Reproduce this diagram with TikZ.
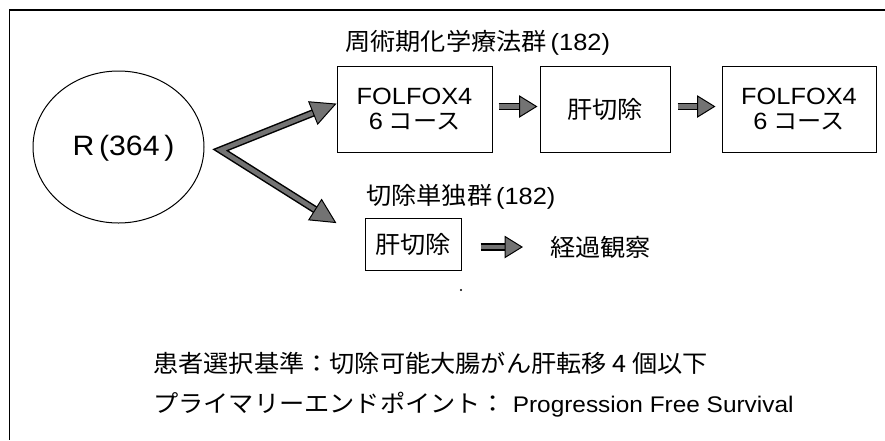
\documentclass[tikz,border=0pt]{standalone}
\usepackage{fontspec}
\setmainfont{Liberation Sans}[FakeStretch=1.08]
\newfontfamily\jp{Noto Sans CJK JP}[FakeStretch=1.05]
\usetikzlibrary{shapes.geometric,calc}
\tikzset{
  box/.style={draw, line width=1pt, inner sep=0pt, align=center, font=\fontsize{23.5}{25}\selectfont},
  lbl/.style={inner sep=0pt, anchor=west, font=\fontsize{23.5}{25}\selectfont},
  fatout/.style={line width=7.5pt, black, line join=miter},
  fatin/.style={line width=4.5pt, black!55, line join=miter},
  headst/.style={draw=black, line width=1pt, fill=black!55, line join=miter},
}
\newcommand{\fatarrow}[4]{%
  \coordinate (fab) at ($(#2)!#3!(#1)$);
  \draw[fatout] (#1) -- (fab);
  \draw[fatin] (#1) -- (fab);
  \draw[headst] (#2) -- ($(fab)!#4!90:(#2)$) -- ($(fab)!#4!-90:(#2)$) -- cycle;
}
\begin{document}
\begin{tikzpicture}[x=1pt,y=-1pt]
\useasboundingbox (0,0) rectangle (885,440);
\fill[white] (0,0) rectangle (885,440);
% frame
\draw[line width=1.2pt] (885,10) -- (9.5,10) -- (9.5,440);
% nodes
\node[draw, ellipse, line width=1pt, minimum width=171pt, minimum height=152pt, inner sep=0pt] (R) at (118.5,147) {};
\node[inner sep=0pt, font=\fontsize{28}{30}\selectfont] (Rt) at (123.5,148.5) {R\,(364\,)};
\node[lbl] (t1) at (345,43) {{\jp\fontsize{24}{26}\selectfont 周術期化学療法群}\,(182)};
\node[box, minimum width=155pt, minimum height=86pt] (b1) at (414.5,109.5) {FOLFOX4\\6\hspace{6pt}{\jp\fontsize{23}{25}\selectfont コース}};
\node[box, minimum width=130pt, minimum height=86pt] (b2) at (605,109.5) {\jp\fontsize{24}{25}\selectfont 肝切除};
\node[box, minimum width=154pt, minimum height=86pt] (b3) at (799,109.5) {FOLFOX4\\6\hspace{6pt}{\jp\fontsize{23}{25}\selectfont コース}};
\node[lbl] (t2) at (366,197) {{\jp\fontsize{24}{26}\selectfont 切除単独群}\,(182)};
\node[box, minimum width=96pt, minimum height=52pt] (b4) at (413,244) {\jp\fontsize{24}{25}\selectfont 肝切除};
\node[lbl] (obs) at (550,247) {\jp\fontsize{24}{25}\selectfont 経過観察};
\node[lbl] (c1) at (153,363) {\jp\fontsize{24}{25}\selectfont 患者選択基準：切除可能大腸がん肝転移 4 個以下};
\node[lbl, font=\fontsize{22.6}{25}\selectfont] (c2) at (153,405) {{\jp\fontsize{24}{25}\selectfont プライマリーエンドポイント：} Progression Free Survival};
% big V arrows
\coordinate (v) at ($(R.east)+(16,3)$);
\coordinate (p1) at ($(b1.west)+(-1,-5.5)$);
\coordinate (p2) at ($(b4.north west)+(-29,5)$);
\coordinate (q1) at ($(p1)!24pt!(v)$);
\coordinate (q2) at ($(p2)!24pt!(v)$);
\draw[fatout] (q1) -- (v) -- (q2);
\draw[fatin] (q1) -- (v) -- (q2);
\draw[headst] (p1) -- ($(q1)!12pt!90:(p1)$) -- ($(q1)!12pt!-90:(p1)$) -- cycle;
\draw[headst] (p2) -- ($(q2)!12pt!90:(p2)$) -- ($(q2)!12pt!-90:(p2)$) -- cycle;
% small arrows
\coordinate (s1) at ($(b1.east)+(6,-3)$);
\coordinate (e1) at ($(b2.west)+(-3,-3)$);
\fatarrow{s1}{e1}{17pt}{10.5pt}
\coordinate (s2) at ($(b2.east)+(7,-3)$);
\coordinate (e2) at ($(b3.west)+(-7,-3)$);
\fatarrow{s2}{e2}{17pt}{10.5pt}
\coordinate (s3) at ($(b4.east)+(19,3)$);
\coordinate (e3) at ($(obs.west)+(-28,0)$);
\fatarrow{s3}{e3}{17pt}{10.5pt}
% stray dot
\fill (461,290) circle (1.2pt);
\end{tikzpicture}
\end{document}
